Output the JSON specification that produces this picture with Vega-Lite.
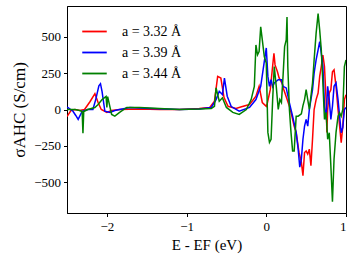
{
  "$schema": "https://vega.github.io/schema/vega-lite/v6.json",
  "width": 279,
  "height": 207,
  "autosize": "none",
  "padding": {"left": 67, "top": 6, "right": 11, "bottom": 49},
  "background": "white",
  "config": {
    "view": {"stroke": "black", "strokeWidth": 1},
    "font": "Liberation Serif",
    "axis": {"labelFont": "Liberation Serif", "titleFont": "Liberation Serif", "labelFontSize": 13, "titleFontSize": 15, "titleFontWeight": "normal", "labelColor": "black", "titleColor": "black", "domainColor": "black", "tickColor": "black", "tickSize": 3.5, "grid": false},
    "legend": {"labelFont": "Liberation Serif", "labelFontSize": 14, "labelColor": "black"}
  },
  "datasets": {
    "curves": [
      {"a": "a = 3.32 Å", "E": -2.5, "s": -48}, {"a": "a = 3.32 Å", "E": -2.49, "s": -40}, {"a": "a = 3.32 Å", "E": -2.45, "s": -7}, {"a": "a = 3.32 Å", "E": -2.4, "s": 0}, {"a": "a = 3.32 Å", "E": -2.34, "s": -7}, {"a": "a = 3.32 Å", "E": -2.28, "s": 0}, {"a": "a = 3.32 Å", "E": -2.21, "s": 55}, {"a": "a = 3.32 Å", "E": -2.15, "s": 109}, {"a": "a = 3.32 Å", "E": -2.11, "s": 48}, {"a": "a = 3.32 Å", "E": -2.07, "s": 0}, {"a": "a = 3.32 Å", "E": -2.0, "s": -20}, {"a": "a = 3.32 Å", "E": -1.94, "s": -7}, {"a": "a = 3.32 Å", "E": -1.84, "s": 0}, {"a": "a = 3.32 Å", "E": -1.59, "s": 3}, {"a": "a = 3.32 Å", "E": -1.34, "s": 0}, {"a": "a = 3.32 Å", "E": -1.09, "s": 0}, {"a": "a = 3.32 Å", "E": -0.84, "s": 7}, {"a": "a = 3.32 Å", "E": -0.71, "s": 14}, {"a": "a = 3.32 Å", "E": -0.65, "s": 57}, {"a": "a = 3.32 Å", "E": -0.61, "s": 227}, {"a": "a = 3.32 Å", "E": -0.57, "s": 216}, {"a": "a = 3.32 Å", "E": -0.53, "s": 82}, {"a": "a = 3.32 Å", "E": -0.48, "s": 22}, {"a": "a = 3.32 Å", "E": -0.38, "s": 7}, {"a": "a = 3.32 Å", "E": -0.3, "s": 20}, {"a": "a = 3.32 Å", "E": -0.21, "s": 34}, {"a": "a = 3.32 Å", "E": -0.13, "s": 91}, {"a": "a = 3.32 Å", "E": -0.09, "s": 159}, {"a": "a = 3.32 Å", "E": -0.05, "s": 48}, {"a": "a = 3.32 Å", "E": 0.0, "s": 22}, {"a": "a = 3.32 Å", "E": 0.012, "s": 41}, {"a": "a = 3.32 Å", "E": 0.05, "s": 136}, {"a": "a = 3.32 Å", "E": 0.075, "s": 272}, {"a": "a = 3.32 Å", "E": 0.096, "s": 386}, {"a": "a = 3.32 Å", "E": 0.11, "s": 306}, {"a": "a = 3.32 Å", "E": 0.14, "s": 259}, {"a": "a = 3.32 Å", "E": 0.16, "s": 218}, {"a": "a = 3.32 Å", "E": 0.2, "s": 177}, {"a": "a = 3.32 Å", "E": 0.22, "s": 136}, {"a": "a = 3.32 Å", "E": 0.25, "s": 88}, {"a": "a = 3.32 Å", "E": 0.29, "s": 22}, {"a": "a = 3.32 Å", "E": 0.31, "s": -20}, {"a": "a = 3.32 Å", "E": 0.35, "s": -115}, {"a": "a = 3.32 Å", "E": 0.375, "s": -157}, {"a": "a = 3.32 Å", "E": 0.41, "s": -293}, {"a": "a = 3.32 Å", "E": 0.44, "s": -361}, {"a": "a = 3.32 Å", "E": 0.46, "s": -454}, {"a": "a = 3.32 Å", "E": 0.48, "s": -295}, {"a": "a = 3.32 Å", "E": 0.5, "s": -284}, {"a": "a = 3.32 Å", "E": 0.52, "s": -306}, {"a": "a = 3.32 Å", "E": 0.54, "s": -272}, {"a": "a = 3.32 Å", "E": 0.56, "s": -386}, {"a": "a = 3.32 Å", "E": 0.58, "s": -204}, {"a": "a = 3.32 Å", "E": 0.6, "s": 0}, {"a": "a = 3.32 Å", "E": 0.625, "s": 68}, {"a": "a = 3.32 Å", "E": 0.65, "s": 113}, {"a": "a = 3.32 Å", "E": 0.67, "s": 227}, {"a": "a = 3.32 Å", "E": 0.69, "s": 295}, {"a": "a = 3.32 Å", "E": 0.71, "s": 374}, {"a": "a = 3.32 Å", "E": 0.73, "s": 295}, {"a": "a = 3.32 Å", "E": 0.75, "s": 68}, {"a": "a = 3.32 Å", "E": 0.76, "s": -157}, {"a": "a = 3.32 Å", "E": 0.77, "s": 0}, {"a": "a = 3.32 Å", "E": 0.79, "s": 113}, {"a": "a = 3.32 Å", "E": 0.81, "s": 136}, {"a": "a = 3.32 Å", "E": 0.83, "s": 259}, {"a": "a = 3.32 Å", "E": 0.85, "s": 272}, {"a": "a = 3.32 Å", "E": 0.875, "s": 159}, {"a": "a = 3.32 Å", "E": 0.9, "s": 0}, {"a": "a = 3.32 Å", "E": 0.92, "s": -115}, {"a": "a = 3.32 Å", "E": 0.94, "s": -227}, {"a": "a = 3.32 Å", "E": 0.96, "s": -115}, {"a": "a = 3.32 Å", "E": 0.98, "s": 68}, {"a": "a = 3.32 Å", "E": 1.0, "s": 102},

      {"a": "a = 3.39 Å", "E": -2.5, "s": 14}, {"a": "a = 3.39 Å", "E": -2.49, "s": 14}, {"a": "a = 3.39 Å", "E": -2.425, "s": -12}, {"a": "a = 3.39 Å", "E": -2.39, "s": -41}, {"a": "a = 3.39 Å", "E": -2.36, "s": -68}, {"a": "a = 3.39 Å", "E": -2.31, "s": -12}, {"a": "a = 3.39 Å", "E": -2.24, "s": 0}, {"a": "a = 3.39 Å", "E": -2.175, "s": 0}, {"a": "a = 3.39 Å", "E": -2.14, "s": 68}, {"a": "a = 3.39 Å", "E": -2.1, "s": 163}, {"a": "a = 3.39 Å", "E": -2.08, "s": 177}, {"a": "a = 3.39 Å", "E": -2.06, "s": 123}, {"a": "a = 3.39 Å", "E": -2.025, "s": -12}, {"a": "a = 3.39 Å", "E": -1.96, "s": -20}, {"a": "a = 3.39 Å", "E": -1.9, "s": -7}, {"a": "a = 3.39 Å", "E": -1.84, "s": 0}, {"a": "a = 3.39 Å", "E": -1.71, "s": 14}, {"a": "a = 3.39 Å", "E": -1.46, "s": 7}, {"a": "a = 3.39 Å", "E": -1.09, "s": 0}, {"a": "a = 3.39 Å", "E": -0.84, "s": 3}, {"a": "a = 3.39 Å", "E": -0.69, "s": 14}, {"a": "a = 3.39 Å", "E": -0.63, "s": 68}, {"a": "a = 3.39 Å", "E": -0.59, "s": 125}, {"a": "a = 3.39 Å", "E": -0.55, "s": 102}, {"a": "a = 3.39 Å", "E": -0.525, "s": 216}, {"a": "a = 3.39 Å", "E": -0.49, "s": 91}, {"a": "a = 3.39 Å", "E": -0.44, "s": 20}, {"a": "a = 3.39 Å", "E": -0.34, "s": -12}, {"a": "a = 3.39 Å", "E": -0.21, "s": 14}, {"a": "a = 3.39 Å", "E": -0.13, "s": 68}, {"a": "a = 3.39 Å", "E": -0.07, "s": 159}, {"a": "a = 3.39 Å", "E": -0.04, "s": 272}, {"a": "a = 3.39 Å", "E": 0.0, "s": 422}, {"a": "a = 3.39 Å", "E": 0.02, "s": 227}, {"a": "a = 3.39 Å", "E": 0.04, "s": 159}, {"a": "a = 3.39 Å", "E": 0.06, "s": 204}, {"a": "a = 3.39 Å", "E": 0.08, "s": 157}, {"a": "a = 3.39 Å", "E": 0.1, "s": 182}, {"a": "a = 3.39 Å", "E": 0.15, "s": 204}, {"a": "a = 3.39 Å", "E": 0.19, "s": 204}, {"a": "a = 3.39 Å", "E": 0.21, "s": 159}, {"a": "a = 3.39 Å", "E": 0.25, "s": 148}, {"a": "a = 3.39 Å", "E": 0.29, "s": 46}, {"a": "a = 3.39 Å", "E": 0.33, "s": -46}, {"a": "a = 3.39 Å", "E": 0.375, "s": -159}, {"a": "a = 3.39 Å", "E": 0.4, "s": -272}, {"a": "a = 3.39 Å", "E": 0.42, "s": -395}, {"a": "a = 3.39 Å", "E": 0.44, "s": -340}, {"a": "a = 3.39 Å", "E": 0.46, "s": -204}, {"a": "a = 3.39 Å", "E": 0.48, "s": -114}, {"a": "a = 3.39 Å", "E": 0.5, "s": -68}, {"a": "a = 3.39 Å", "E": 0.52, "s": -114}, {"a": "a = 3.39 Å", "E": 0.54, "s": 0}, {"a": "a = 3.39 Å", "E": 0.56, "s": 68}, {"a": "a = 3.39 Å", "E": 0.58, "s": 136}, {"a": "a = 3.39 Å", "E": 0.6, "s": 250}, {"a": "a = 3.39 Å", "E": 0.625, "s": 340}, {"a": "a = 3.39 Å", "E": 0.65, "s": 409}, {"a": "a = 3.39 Å", "E": 0.67, "s": 465}, {"a": "a = 3.39 Å", "E": 0.69, "s": 386}, {"a": "a = 3.39 Å", "E": 0.71, "s": 295}, {"a": "a = 3.39 Å", "E": 0.73, "s": 22}, {"a": "a = 3.39 Å", "E": 0.75, "s": -68}, {"a": "a = 3.39 Å", "E": 0.77, "s": 159}, {"a": "a = 3.39 Å", "E": 0.79, "s": 68}, {"a": "a = 3.39 Å", "E": 0.81, "s": -68}, {"a": "a = 3.39 Å", "E": 0.83, "s": 22}, {"a": "a = 3.39 Å", "E": 0.85, "s": 159}, {"a": "a = 3.39 Å", "E": 0.875, "s": 182}, {"a": "a = 3.39 Å", "E": 0.9, "s": 68}, {"a": "a = 3.39 Å", "E": 0.92, "s": -46}, {"a": "a = 3.39 Å", "E": 0.94, "s": -159}, {"a": "a = 3.39 Å", "E": 0.96, "s": -123}, {"a": "a = 3.39 Å", "E": 0.98, "s": 0}, {"a": "a = 3.39 Å", "E": 1.0, "s": 14},

      {"a": "a = 3.44 Å", "E": -2.5, "s": 0}, {"a": "a = 3.44 Å", "E": -2.4, "s": 0}, {"a": "a = 3.44 Å", "E": -2.34, "s": -7}, {"a": "a = 3.44 Å", "E": -2.31, "s": -14}, {"a": "a = 3.44 Å", "E": -2.3, "s": -163}, {"a": "a = 3.44 Å", "E": -2.29, "s": -14}, {"a": "a = 3.44 Å", "E": -2.24, "s": 0}, {"a": "a = 3.44 Å", "E": -2.15, "s": 14}, {"a": "a = 3.44 Å", "E": -2.11, "s": 34}, {"a": "a = 3.44 Å", "E": -2.06, "s": 68}, {"a": "a = 3.44 Å", "E": -2.01, "s": 90}, {"a": "a = 3.44 Å", "E": -2.0, "s": 14}, {"a": "a = 3.44 Å", "E": -1.99, "s": 88}, {"a": "a = 3.44 Å", "E": -1.96, "s": 14}, {"a": "a = 3.44 Å", "E": -1.94, "s": -34}, {"a": "a = 3.44 Å", "E": -1.9, "s": -45}, {"a": "a = 3.44 Å", "E": -1.84, "s": -20}, {"a": "a = 3.44 Å", "E": -1.75, "s": 14}, {"a": "a = 3.44 Å", "E": -1.59, "s": 14}, {"a": "a = 3.44 Å", "E": -1.34, "s": 7}, {"a": "a = 3.44 Å", "E": -1.09, "s": 0}, {"a": "a = 3.44 Å", "E": -0.84, "s": 3}, {"a": "a = 3.44 Å", "E": -0.69, "s": 7}, {"a": "a = 3.44 Å", "E": -0.65, "s": 22}, {"a": "a = 3.44 Å", "E": -0.63, "s": 148}, {"a": "a = 3.44 Å", "E": -0.59, "s": 57}, {"a": "a = 3.44 Å", "E": -0.55, "s": 80}, {"a": "a = 3.44 Å", "E": -0.5, "s": 14}, {"a": "a = 3.44 Å", "E": -0.42, "s": -20}, {"a": "a = 3.44 Å", "E": -0.34, "s": -34}, {"a": "a = 3.44 Å", "E": -0.25, "s": 0}, {"a": "a = 3.44 Å", "E": -0.19, "s": 68}, {"a": "a = 3.44 Å", "E": -0.15, "s": 159}, {"a": "a = 3.44 Å", "E": -0.13, "s": 443}, {"a": "a = 3.44 Å", "E": -0.11, "s": 375}, {"a": "a = 3.44 Å", "E": -0.09, "s": 397}, {"a": "a = 3.44 Å", "E": -0.07, "s": 567}, {"a": "a = 3.44 Å", "E": -0.05, "s": 477}, {"a": "a = 3.44 Å", "E": -0.025, "s": 363}, {"a": "a = 3.44 Å", "E": 0.0, "s": 318}, {"a": "a = 3.44 Å", "E": 0.02, "s": -157}, {"a": "a = 3.44 Å", "E": 0.04, "s": -225}, {"a": "a = 3.44 Å", "E": 0.06, "s": -204}, {"a": "a = 3.44 Å", "E": 0.08, "s": 68}, {"a": "a = 3.44 Å", "E": 0.1, "s": 295}, {"a": "a = 3.44 Å", "E": 0.125, "s": 159}, {"a": "a = 3.44 Å", "E": 0.15, "s": 0}, {"a": "a = 3.44 Å", "E": 0.17, "s": 68}, {"a": "a = 3.44 Å", "E": 0.19, "s": 48}, {"a": "a = 3.44 Å", "E": 0.21, "s": 227}, {"a": "a = 3.44 Å", "E": 0.23, "s": 431}, {"a": "a = 3.44 Å", "E": 0.25, "s": 477}, {"a": "a = 3.44 Å", "E": 0.26, "s": 635}, {"a": "a = 3.44 Å", "E": 0.27, "s": 295}, {"a": "a = 3.44 Å", "E": 0.29, "s": 0}, {"a": "a = 3.44 Å", "E": 0.31, "s": -157}, {"a": "a = 3.44 Å", "E": 0.33, "s": -284}, {"a": "a = 3.44 Å", "E": 0.35, "s": -284}, {"a": "a = 3.44 Å", "E": 0.375, "s": -46}, {"a": "a = 3.44 Å", "E": 0.4, "s": -46}, {"a": "a = 3.44 Å", "E": 0.44, "s": -30}, {"a": "a = 3.44 Å", "E": 0.46, "s": 27}, {"a": "a = 3.44 Å", "E": 0.48, "s": 68}, {"a": "a = 3.44 Å", "E": 0.5, "s": 136}, {"a": "a = 3.44 Å", "E": 0.52, "s": 68}, {"a": "a = 3.44 Å", "E": 0.54, "s": 0}, {"a": "a = 3.44 Å", "E": 0.56, "s": 91}, {"a": "a = 3.44 Å", "E": 0.58, "s": 182}, {"a": "a = 3.44 Å", "E": 0.6, "s": 340}, {"a": "a = 3.44 Å", "E": 0.625, "s": 522}, {"a": "a = 3.44 Å", "E": 0.65, "s": 658}, {"a": "a = 3.44 Å", "E": 0.67, "s": 545}, {"a": "a = 3.44 Å", "E": 0.69, "s": 409}, {"a": "a = 3.44 Å", "E": 0.71, "s": 182}, {"a": "a = 3.44 Å", "E": 0.73, "s": -68}, {"a": "a = 3.44 Å", "E": 0.75, "s": -20}, {"a": "a = 3.44 Å", "E": 0.77, "s": -204}, {"a": "a = 3.44 Å", "E": 0.79, "s": -159}, {"a": "a = 3.44 Å", "E": 0.81, "s": -386}, {"a": "a = 3.44 Å", "E": 0.83, "s": -633}, {"a": "a = 3.44 Å", "E": 0.85, "s": -340}, {"a": "a = 3.44 Å", "E": 0.875, "s": -157}, {"a": "a = 3.44 Å", "E": 0.9, "s": -46}, {"a": "a = 3.44 Å", "E": 0.92, "s": -23}, {"a": "a = 3.44 Å", "E": 0.94, "s": -46}, {"a": "a = 3.44 Å", "E": 0.96, "s": 0}, {"a": "a = 3.44 Å", "E": 0.98, "s": 295}, {"a": "a = 3.44 Å", "E": 1.0, "s": 340}
    ]
  },
  "layer": [
    {
      "data": {"name": "curves"},
      "mark": {"type": "line", "strokeWidth": 1.5, "clip": true},
      "encoding": {
        "x": {"field": "E", "type": "quantitative", "scale": {"domain": [-2.5, 1], "nice": false, "zero": false}, "axis": {"values": [-2, -1, 0, 1], "format": "d", "title": "E - EF (eV)", "titlePadding": 4, "labelPadding": 4}},
        "y": {"field": "s", "type": "quantitative", "scale": {"domain": [-710, 710], "nice": false}, "axis": {"values": [-500, -250, 0, 250, 500], "format": "d", "title": "σAHC (S/cm)", "titleFontSize": 17, "titlePadding": 5, "labelPadding": 3}},
        "color": {"field": "a", "type": "nominal", "scale": {"domain": ["a = 3.32 Å", "a = 3.39 Å", "a = 3.44 Å"], "range": ["#ff0000", "#0000ff", "#008000"]},
          "legend": {"title": null, "orient": "none", "legendX": 14, "legendY": 12, "padding": 0, "symbolType": "stroke", "symbolSize": 600, "symbolStrokeWidth": 1.8, "rowPadding": 0, "labelOffset": 14}},
        "order": {"field": "E", "type": "quantitative"}
      }
    },
    {
      "mark": {"type": "rule", "strokeDash": [4, 3], "color": "black", "strokeWidth": 1},
      "encoding": {"y": {"datum": 0}}
    },
    {
      "mark": {"type": "rule", "strokeDash": [4, 3], "color": "#333333", "strokeWidth": 1},
      "encoding": {"x": {"datum": 0}}
    }
  ]
}
